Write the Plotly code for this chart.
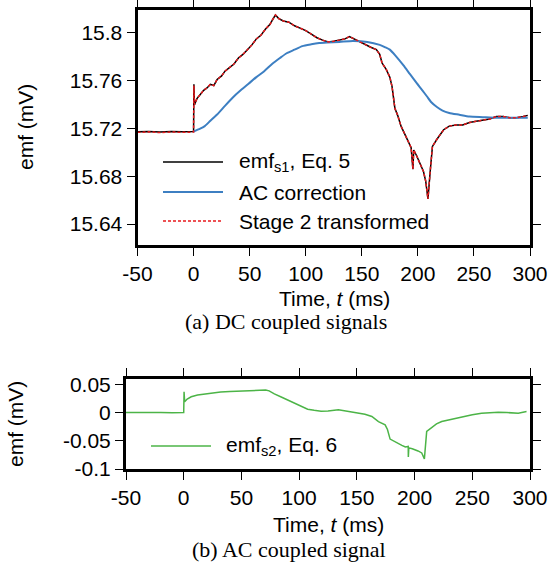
import plotly.graph_objects as go

# ---------------- data ----------------
t_s1 = [-50, -40, -30, -20, -10, -0.5, 0, 0.3, 0.8, 3, 6, 9, 12, 15, 18, 21, 25, 28, 32, 36,
        40, 44, 48, 52, 56, 60, 64, 68, 71, 73, 76, 80, 85, 90, 95, 100, 105, 110, 115, 120,
        125, 130, 135, 139, 143, 148, 153, 158, 163, 166, 168, 172, 175, 177, 179.5, 182, 185,
        188, 191, 194, 195.6, 196.3, 199, 202, 205, 207, 209, 211, 213, 217, 220, 223, 228,
        234, 240, 246, 252, 258, 264, 270, 276, 282, 288, 294, 298]
emf_s1 = [15.7172, 15.7176, 15.7170, 15.7175, 15.7172, 15.7174, 15.7174, 15.757, 15.740, 15.745,
          15.749, 15.752, 15.754, 15.757, 15.756, 15.761, 15.764, 15.768, 15.771, 15.774,
          15.779, 15.782, 15.786, 15.790, 15.795, 15.798, 15.803, 15.807, 15.812, 15.815,
          15.812, 15.810, 15.809, 15.806, 15.804, 15.802, 15.799, 15.796, 15.794, 15.7925,
          15.793, 15.794, 15.795, 15.797, 15.795, 15.7925, 15.790, 15.788, 15.786, 15.782,
          15.775, 15.769, 15.763, 15.755, 15.737, 15.731, 15.722, 15.716, 15.711, 15.704,
          15.686, 15.702, 15.697, 15.691, 15.684, 15.676, 15.661, 15.684, 15.705, 15.711,
          15.715, 15.719, 15.722, 15.723, 15.723, 15.725, 15.726, 15.727, 15.728, 15.730,
          15.730, 15.729, 15.729, 15.730, 15.731]
stage2 = [15.7168, 15.7172, 15.7166, 15.7171, 15.7168, 15.7170, 15.7170, 15.756, 15.740, 15.745,
          15.749, 15.752, 15.754, 15.757, 15.756, 15.761, 15.764, 15.768, 15.771, 15.774,
          15.779, 15.782, 15.786, 15.790, 15.795, 15.798, 15.803, 15.807, 15.812, 15.815,
          15.812, 15.810, 15.809, 15.806, 15.804, 15.802, 15.799, 15.796, 15.794, 15.7925,
          15.793, 15.794, 15.795, 15.797, 15.795, 15.7925, 15.790, 15.788, 15.786, 15.782,
          15.775, 15.769, 15.763, 15.755, 15.737, 15.731, 15.722, 15.716, 15.711, 15.704,
          15.686, 15.702, 15.697, 15.691, 15.684, 15.676, 15.661, 15.684, 15.705, 15.711,
          15.715, 15.719, 15.722, 15.723, 15.723, 15.725, 15.726, 15.727, 15.728, 15.730,
          15.730, 15.729, 15.729, 15.730, 15.731]

t_ac = [0, 5, 10, 15, 21, 28, 35, 42, 49, 56, 63, 70, 77, 83, 90, 97, 105, 112, 119, 130, 142,
        155, 166, 171, 175, 180, 187, 193, 199, 204, 208, 212, 217, 222, 228, 237, 246, 258,
        270, 285, 298]
ac_corr = [15.7175, 15.7195, 15.722, 15.7265, 15.7317, 15.739, 15.746, 15.752, 15.7575, 15.763,
           15.768, 15.774, 15.779, 15.783, 15.786, 15.789, 15.7905, 15.7915, 15.792, 15.7925,
           15.7933, 15.7925, 15.790, 15.788, 15.786, 15.781, 15.773, 15.7655, 15.758, 15.752,
           15.747, 15.742, 15.738, 15.735, 15.733, 15.7315, 15.730, 15.7295, 15.729, 15.729,
           15.729]

t_s2 = [-50, -40, -30, -20, -10, -0.5, 0, 0.3, 0.8, 3, 6.5, 12, 18, 25, 32, 40, 50, 61, 71, 74,
        78.5, 84, 90, 96, 101.6, 107.4, 113, 119, 125, 134, 143, 151, 157, 163, 166, 168.7,
        174.5, 176.5, 178.8, 183, 186, 189, 192, 194.5, 194.6, 195.0, 198, 200.4, 203, 206.2,
        208.5, 210.5, 214.9, 219, 223.5, 232, 238, 243.7, 250, 258, 265, 272.5, 280, 289.8, 297]
emf_s2 = [0.0, 0.0003, -0.0003, 0.0002, -0.0002, 0.0, 0.0, 0.037, 0.019, 0.024, 0.028, 0.031,
          0.033, 0.035, 0.0364, 0.0375, 0.0387, 0.040, 0.040, 0.0385, 0.033, 0.028, 0.0224,
          0.017, 0.0123, 0.006, 0.004, 0.0025, 0.003, 0.0048, 0.002, -0.001, -0.003, -0.007,
          -0.011, -0.016, -0.0217, -0.030, -0.047, -0.052, -0.055, -0.058, -0.061, -0.060,
          -0.0786, -0.0625, -0.064, -0.0657, -0.068, -0.0715, -0.082, -0.0334, -0.0257, -0.020,
          -0.0158, -0.0117, -0.009, -0.0058, -0.004, -0.001, 0.0, 0.0007, 0.0, -0.001, 0.0018]

x_ticks = [-50, 0, 50, 100, 150, 200, 250, 300]
x_ticktext = ["-50", "0", "50", "100", "150", "200", "250", "300"]
y1_ticks = [15.64, 15.68, 15.72, 15.76, 15.8]
y1_ticktext = ["15.64", "15.68", "15.72", "15.76", "15.8"]
y2_ticks = [-0.1, -0.05, 0, 0.05]
y2_ticktext = ["-0.1", "-0.05", "0", "0.05"]

names = ["emf<sub>s1</sub>, Eq. 5", "AC correction", "Stage 2 transformed"]
name2 = "emf<sub>s2</sub>, Eq. 6"

# ---------------- styling ----------------
W, H = 551, 575
C_BLACK = "#000000"
C_BLUE = "#3d7fc2"
C_RED = "#e8191c"
C_GREEN = "#4cb447"
SANS = "Liberation Sans, Arial, sans-serif"
SERIF = "Liberation Serif, Times New Roman, serif"
FS = 21


def px(x):
    return x / W


def py(y):
    return 1 - y / H


fig = go.Figure()
fig.add_trace(go.Scatter(x=t_s1, y=emf_s1, mode="lines", line=dict(color=C_BLACK, width=1.5),
                         xaxis="x", yaxis="y", showlegend=False))
fig.add_trace(go.Scatter(x=t_ac, y=ac_corr, mode="lines",
                         line=dict(color=C_BLUE, width=2, shape="spline", smoothing=0.6),
                         xaxis="x", yaxis="y", showlegend=False))
fig.add_trace(go.Scatter(x=t_s1, y=stage2, mode="lines",
                         line=dict(color=C_RED, width=1.5, dash="3px,2px"),
                         xaxis="x", yaxis="y", showlegend=False))
fig.add_trace(go.Scatter(x=t_s2, y=emf_s2, mode="lines", line=dict(color=C_GREEN, width=1.5),
                         xaxis="x2", yaxis="y2", showlegend=False))

axis_common = dict(showline=True, linewidth=3, linecolor="black", mirror="ticks",
                   ticks="outside", ticklen=8, tickwidth=1, tickcolor="black",
                   showgrid=False, zeroline=False, automargin=False,
                   tickfont=dict(family=SANS, size=FS, color="black"))

fig.update_layout(
    template="none",
    width=W, height=H,
    margin=dict(l=0, r=0, t=0, b=0, pad=0),
    paper_bgcolor="white", plot_bgcolor="white",
    xaxis=dict(domain=[px(137.5), px(530)], range=[-50, 300], anchor="y",
               tickvals=x_ticks, ticktext=x_ticktext, **axis_common),
    yaxis=dict(domain=[py(245), py(10)], range=[15.6225, 15.8192], anchor="x",
               tickvals=y1_ticks, ticktext=y1_ticktext, **axis_common),
    xaxis2=dict(domain=[px(126), px(530)], range=[-50, 300], anchor="y2",
                tickvals=x_ticks, ticktext=x_ticktext, **axis_common),
    yaxis2=dict(domain=[py(469), py(379)], range=[-0.1, 0.0595], anchor="x2",
                tickvals=y2_ticks, ticktext=y2_ticktext, **axis_common),
)

annotations = []
shapes = []


def label(text, x, y, size=FS, family=SANS, angle=0, xanchor="center"):
    annotations.append(dict(text=text, x=px(x), y=py(y), xref="paper", yref="paper",
                            showarrow=False, textangle=angle, xanchor=xanchor,
                            yanchor="middle",
                            font=dict(family=family, size=size, color="black")))


# axis titles
label("emf (mV)", 25, 127, angle=-90)
label("Time, <i>t</i> (ms)", 334, 298)
label("emf (mV)", 15, 424, angle=-90)
label("Time, <i>t</i> (ms)", 328, 524)
# captions
label("(a) DC coupled signals", 286, 321, size=22, family=SERIF)
label("(b) AC coupled signal", 289, 549, size=22, family=SERIF)

# legends (top)
leg_rows = [(162, C_BLACK, "solid", 1.5), (192, C_BLUE, "solid", 2), (221, C_RED, "3px,2px", 1.5)]
for (yy, col, dash, wd), nm in zip(leg_rows, names):
    shapes.append(dict(type="line", xref="paper", yref="paper", x0=px(163), x1=px(223),
                       y0=py(yy), y1=py(yy), line=dict(color=col, width=wd, dash=dash)))
    label(nm, 237, yy, xanchor="left")
# legend (bottom)
shapes.append(dict(type="line", xref="paper", yref="paper", x0=px(151), x1=px(211),
                   y0=py(446), y1=py(446), line=dict(color=C_GREEN, width=1.5)))
label(name2, 224, 446, xanchor="left")

fig.update_layout(annotations=annotations, shapes=shapes)
fig.write_html("out.html")
